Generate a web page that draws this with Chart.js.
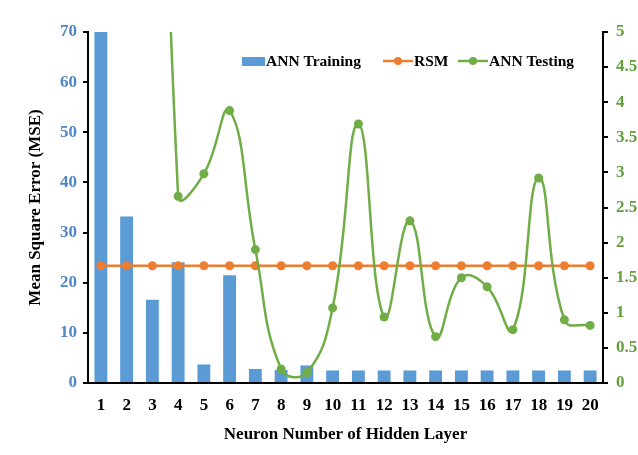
<!DOCTYPE html>
<html>
<head>
<meta charset="utf-8">
<script src="https://cdn.jsdelivr.net/npm/chart.js@4.4.1/dist/chart.umd.min.js"></script>
<style>
    html, body { margin: 0; padding: 0; background: #fff; }
    #wrap { width: 638px; height: 455px; position: relative; }
</style>
</head>
<body>
<div id="wrap"><canvas id="grafico"></canvas></div>
<script>
// Datos
const neuronas = ['1','2','3','4','5','6','7','8','9','10','11','12','13','14','15','16','17','18','19','20'];
const annTraining = [70, 33.2, 16.6, 24.1, 3.7, 21.5, 2.8, 2.6, 3.5, 2.5, 2.5, 2.5, 2.5, 2.5, 2.5, 2.5, 2.5, 2.5, 2.5, 2.5];
const rsm = [1.67, 1.67, 1.67, 1.67, 1.67, 1.67, 1.67, 1.67, 1.67, 1.67, 1.67, 1.67, 1.67, 1.67, 1.67, 1.67, 1.67, 1.67, 1.67, 1.67];
const annTesting = [40, 30, 18, 2.66, 2.98, 3.88, 1.90, 0.20, 0.15, 1.07, 3.69, 0.94, 2.31, 0.66, 1.50, 1.37, 0.76, 2.92, 0.90, 0.82];
const ticksIzq = [0, 10, 20, 30, 40, 50, 60, 70];
const ticksDer = [0, 0.5, 1, 1.5, 2, 2.5, 3, 3.5, 4, 4.5, 5];

const AZUL = '#5b9bd5';
const NARANJA = '#ed7d31';
const VERDE = '#70ad47';
const fuente = 'Liberation Serif';

// Leyenda dibujada dentro del área del gráfico
const leyendaInterna = {
    id: 'leyendaInterna',
    afterDraw(chart) {
        const ctx = chart.ctx;
        const ds = chart.data.datasets;
        const y = 61;
        ctx.save();
        ctx.font = 'bold 15.5px "' + fuente + '"';
        ctx.fillStyle = '#000';
        ctx.textBaseline = 'middle';

        // ANN Training
        ctx.fillStyle = AZUL;
        ctx.fillRect(242, y - 4, 23, 9);
        ctx.fillStyle = '#000';
        ctx.fillText(ds[0].label, 266, y + 1);

        // RSM y ANN Testing
        [[1, 383], [2, 458]].forEach(([i, x]) => {
            ctx.strokeStyle = ds[i].borderColor;
            ctx.lineWidth = 2.5;
            ctx.beginPath();
            ctx.moveTo(x, y);
            ctx.lineTo(x + 30, y);
            ctx.stroke();
            ctx.fillStyle = ds[i].borderColor;
            ctx.beginPath();
            ctx.arc(x + 15, y, 4, 0, Math.PI * 2);
            ctx.fill();
            ctx.fillStyle = '#000';
            ctx.fillText(ds[i].label, x + 31, y + 1);
        });
        ctx.restore();
    }
};

const ctx = document.getElementById('grafico').getContext('2d');
new Chart(ctx, {
    type: 'bar',
    data: {
        labels: neuronas,
        datasets: [
            {
                type: 'bar',
                label: 'ANN Training',
                data: annTraining,
                backgroundColor: AZUL,
                yAxisID: 'y',
                barPercentage: 0.5,
                categoryPercentage: 1,
                order: 3
            },
            {
                type: 'line',
                label: 'RSM',
                data: rsm,
                borderColor: NARANJA,
                backgroundColor: NARANJA,
                borderWidth: 2.5,
                pointRadius: 4.5,
                pointBorderWidth: 0,
                yAxisID: 'y1',
                order: 2
            },
            {
                type: 'line',
                label: 'ANN Testing',
                data: annTesting,
                borderColor: VERDE,
                backgroundColor: VERDE,
                borderWidth: 2.5,
                pointRadius: 4.5,
                pointBorderWidth: 0,
                tension: 0.45,
                yAxisID: 'y1',
                order: 1
            }
        ]
    },
    options: {
        responsive: true,
        maintainAspectRatio: false,
        animation: false,
        elements: { line: { capBezierPoints: false } },
        layout: { padding: { top: 32, left: 0, right: 0, bottom: 0 } },
        plugins: {
            legend: { display: false },
            tooltip: { enabled: false }
        },
        scales: {
            x: {
                grid: { display: false, drawTicks: false },
                border: { display: true, color: '#000', width: 2 },
                ticks: { color: '#000', padding: 12, font: { family: fuente, size: 17, weight: 'bold' } },
                title: {
                    display: true,
                    text: 'Neuron Number of Hidden Layer',
                    color: '#000',
                    font: { family: fuente, size: 17, weight: 'bold' },
                    padding: { top: 0, bottom: 10 }
                },
                afterFit: s => { s.height = 72; }
            },
            y: {
                position: 'left',
                min: 0,
                max: 70,
                afterBuildTicks: s => { s.ticks = ticksIzq.map(v => ({ value: v })); },
                grid: { drawOnChartArea: false, drawTicks: true, tickLength: 5, color: '#000', lineWidth: 2 },
                border: { display: true, color: '#000', width: 2 },
                ticks: { color: '#4f86c6', padding: 6, font: { family: fuente, size: 17, weight: 'bold' } },
                title: {
                    display: true,
                    text: 'Mean Square Error (MSE)',
                    color: '#000',
                    font: { family: fuente, size: 17, weight: 'bold' },
                    padding: { top: 25, bottom: 0 }
                },
                afterFit: s => { s.width = 88; }
            },
            y1: {
                position: 'right',
                min: 0,
                max: 5,
                afterBuildTicks: s => { s.ticks = ticksDer.map(v => ({ value: v })); },
                grid: { drawOnChartArea: false, drawTicks: true, tickLength: 5, color: '#000', lineWidth: 2 },
                border: { display: true, color: '#000', width: 2 },
                ticks: {
                    color: '#62a03c',
                    padding: 8,
                    font: { family: fuente, size: 17, weight: 'bold' },
                    callback: v => String(v)
                },
                afterFit: s => { s.width = 35; }
            }
        }
    },
    plugins: [leyendaInterna]
});
</script>
</body>
</html>
